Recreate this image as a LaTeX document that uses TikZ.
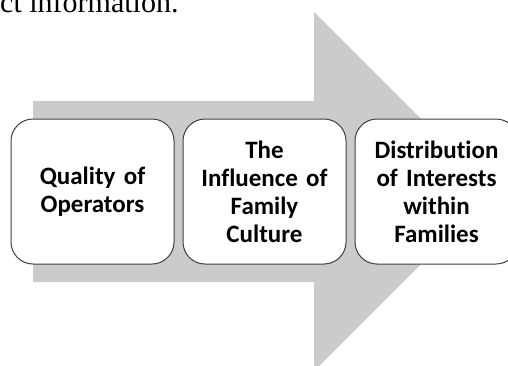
\documentclass[tikz,border=0pt]{standalone}
\usepackage{fontspec}
\setmainfont[Ligatures={NoCommon,NoRequired,NoContextual}]{Carlito}
\newfontfamily\serifface{Liberation Serif}
\definecolor{arrowgray}{HTML}{CBCBCB}
\definecolor{boxline}{HTML}{404040}
\tikzset{
  stagebox/.style={draw=boxline, line width=1pt, fill=white,
    rounded corners=22pt, minimum width=163pt, minimum height=145pt,
    align=center, font=\fontsize{25}{28}\selectfont\bfseries,
    inner sep=0pt, text width=150pt},
  bigarrow/.style={fill=arrowgray, draw=none}
}
\begin{document}
\begin{tikzpicture}[x=1pt,y=-1pt]
  \useasboundingbox (0,0) rectangle (508,365);
  \clip (0,0) rectangle (508,365);
  % caption text running in from the line above
  \node[anchor=base west, inner sep=0pt, font=\serifface\fontsize{30}{36}\selectfont]
    (caption) at (0,12) {ct information.};
  % broad block arrow behind the stages
  \fill[bigarrow] (33,101) -- (314,101) -- (314,12) -- (493.5,191.5)
    -- (314,371) -- (314,282) -- (33,282) -- cycle;
  % the three stages
  \node[stagebox] (quality) at (92.5,191.5) {Quality of\\Operators};
  \node[stagebox] (culture) at (264.5,191.5) {The\\Influence of\\Family\\Culture};
  \node[stagebox] (interests) at (436.5,191.5) {Distribution\\of Interests\\within\\Families};
\end{tikzpicture}
\end{document}
